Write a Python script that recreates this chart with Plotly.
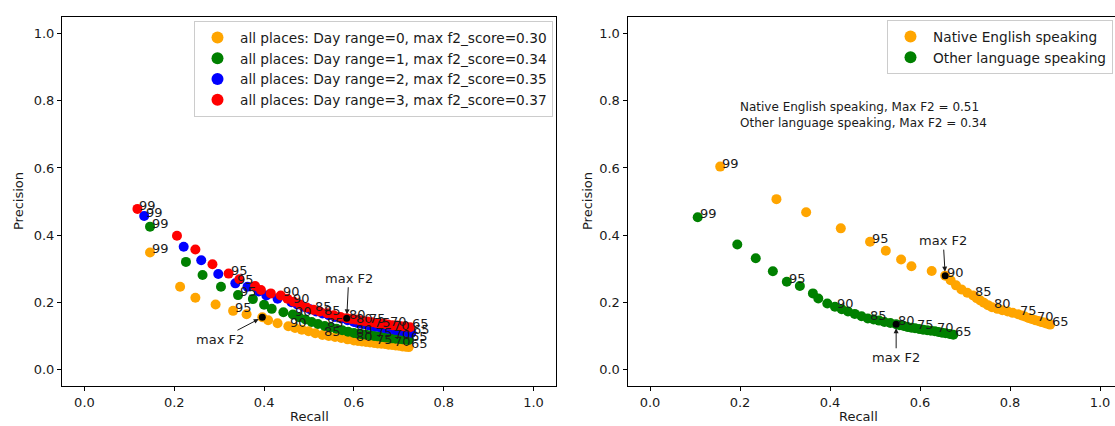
import plotly.graph_objects as go

# ---------------- data ----------------
thresholds = [99, 98, 97, 96, 95, 94, 93, 92, 91, 90, 89, 88, 87, 86, 85, 84, 83, 82, 81, 80,
              79, 78, 77, 76, 75, 74, 73, 72, 71, 70, 69, 68, 67, 66, 65]
label_thresholds = [99, 95, 90, 85, 80, 75, 70, 65]

# Left panel: all places, day ranges 0..3
day0_recall = [0.146, 0.213, 0.247, 0.292, 0.331, 0.361, 0.396, 0.409, 0.430, 0.454, 0.469, 0.484,
               0.499, 0.514, 0.530, 0.544, 0.558, 0.572, 0.586, 0.600, 0.609, 0.618, 0.627, 0.636,
               0.645, 0.653, 0.661, 0.669, 0.677, 0.685, 0.693, 0.700, 0.708, 0.715, 0.722]
day0_precision = [0.348, 0.246, 0.213, 0.193, 0.174, 0.164, 0.155, 0.146, 0.137, 0.128, 0.123, 0.118,
                  0.113, 0.107, 0.102, 0.099, 0.096, 0.093, 0.089, 0.086, 0.084, 0.083, 0.081, 0.080,
                  0.078, 0.077, 0.076, 0.075, 0.073, 0.072, 0.071, 0.070, 0.068, 0.067, 0.066]

day1_recall = [0.146, 0.226, 0.263, 0.304, 0.342, 0.375, 0.400, 0.417, 0.443, 0.464, 0.478, 0.492,
               0.506, 0.520, 0.535, 0.548, 0.561, 0.574, 0.587, 0.600, 0.609, 0.618, 0.627, 0.636,
               0.645, 0.653, 0.661, 0.669, 0.677, 0.685, 0.693, 0.701, 0.709, 0.716, 0.722]
day1_precision = [0.425, 0.320, 0.281, 0.246, 0.221, 0.209, 0.192, 0.180, 0.170, 0.163, 0.155, 0.148,
                  0.141, 0.135, 0.129, 0.125, 0.121, 0.116, 0.112, 0.108, 0.106, 0.104, 0.103, 0.101,
                  0.099, 0.098, 0.096, 0.095, 0.094, 0.092, 0.091, 0.090, 0.089, 0.088, 0.087]

day2_recall = [0.133, 0.221, 0.260, 0.298, 0.336, 0.363, 0.388, 0.405, 0.430, 0.461, 0.474, 0.488,
               0.502, 0.516, 0.530, 0.544, 0.558, 0.572, 0.586, 0.600, 0.608, 0.616, 0.624, 0.632,
               0.640, 0.649, 0.658, 0.667, 0.675, 0.683, 0.692, 0.701, 0.710, 0.719, 0.728]
day2_precision = [0.457, 0.365, 0.325, 0.284, 0.256, 0.246, 0.232, 0.220, 0.210, 0.200, 0.193, 0.186,
                  0.179, 0.172, 0.166, 0.161, 0.156, 0.151, 0.146, 0.141, 0.138, 0.136, 0.134, 0.131,
                  0.129, 0.127, 0.125, 0.123, 0.121, 0.119, 0.117, 0.115, 0.113, 0.111, 0.109]

day3_recall = [0.118, 0.206, 0.247, 0.285, 0.321, 0.345, 0.380, 0.393, 0.415, 0.437, 0.452, 0.466,
               0.480, 0.495, 0.510, 0.524, 0.540, 0.555, 0.570, 0.584, 0.594, 0.603, 0.612, 0.620,
               0.630, 0.640, 0.650, 0.660, 0.668, 0.676, 0.686, 0.696, 0.705, 0.715, 0.725]
day3_precision = [0.478, 0.398, 0.357, 0.313, 0.285, 0.268, 0.248, 0.236, 0.226, 0.220, 0.210, 0.201,
                  0.193, 0.184, 0.177, 0.172, 0.167, 0.161, 0.156, 0.152, 0.150, 0.148, 0.146, 0.144,
                  0.142, 0.140, 0.138, 0.136, 0.135, 0.133, 0.131, 0.130, 0.128, 0.127, 0.125]

left_names = ["all places: Day range=0, max f2_score=0.30",
              "all places: Day range=1, max f2_score=0.34",
              "all places: Day range=2, max f2_score=0.35",
              "all places: Day range=3, max f2_score=0.37"]
left_colors = ["orange", "green", "blue", "red"]
left_max_threshold = {0: 93, 3: 80}   # series index -> threshold of the marked max F2

# Right panel: language groups
native_recall = [0.156, 0.281, 0.347, 0.424, 0.489, 0.524, 0.558, 0.581, 0.626, 0.656, 0.668, 0.680,
                 0.692, 0.705, 0.718, 0.726, 0.734, 0.742, 0.751, 0.760, 0.772, 0.783, 0.795, 0.806,
                 0.818, 0.826, 0.833, 0.841, 0.848, 0.856, 0.863, 0.869, 0.876, 0.882, 0.889]
native_precision = [0.604, 0.507, 0.468, 0.420, 0.380, 0.353, 0.327, 0.307, 0.293, 0.279, 0.265, 0.250,
                    0.238, 0.228, 0.220, 0.212, 0.205, 0.198, 0.191, 0.185, 0.180, 0.176, 0.172, 0.168,
                    0.164, 0.160, 0.157, 0.153, 0.150, 0.146, 0.144, 0.141, 0.139, 0.136, 0.133]

other_recall = [0.106, 0.194, 0.235, 0.273, 0.304, 0.333, 0.362, 0.374, 0.394, 0.411, 0.426, 0.440,
                0.455, 0.470, 0.484, 0.497, 0.509, 0.521, 0.534, 0.547, 0.555, 0.564, 0.572, 0.581,
                0.589, 0.598, 0.607, 0.616, 0.624, 0.633, 0.641, 0.649, 0.657, 0.666, 0.674]
other_precision = [0.453, 0.372, 0.331, 0.292, 0.261, 0.248, 0.226, 0.211, 0.196, 0.186, 0.179, 0.172,
                   0.165, 0.158, 0.151, 0.148, 0.145, 0.141, 0.138, 0.134, 0.131, 0.129, 0.126, 0.124,
                   0.122, 0.120, 0.118, 0.116, 0.115, 0.113, 0.111, 0.109, 0.107, 0.105, 0.103]

right_names = ["Native English speaking", "Other language speaking"]
right_colors = ["orange", "green"]
right_max_threshold = {0: 90, 1: 80}
right_note = "Native English speaking, Max F2 = 0.51<br>Other language speaking, Max F2 = 0.34"

# ---------------- figure ----------------
W, H = 1115, 426
FONT = "DejaVu Sans"
TXT = "#1a1a1a"
fig = go.Figure()

left_series = [(day0_recall, day0_precision), (day1_recall, day1_precision),
               (day2_recall, day2_precision), (day3_recall, day3_precision)]
right_series = [(native_recall, native_precision), (other_recall, other_precision)]

annots = []


def add_panel(series, names, colors, xa, ya, legend):
    for (xs, ys), name, col in zip(series, names, colors):
        fig.add_trace(go.Scatter(x=xs, y=ys, mode="markers", name=name,
                                 marker=dict(color=col, size=10, line=dict(width=0)),
                                 xaxis=xa, yaxis=ya, legend=legend))
    for (xs, ys) in series:
        for t, x, y in zip(thresholds, xs, ys):
            if t in label_thresholds:
                annots.append(dict(x=x, y=y, xref=xa, yref=ya, text=str(t), showarrow=False,
                                   xanchor="left", yanchor="bottom", xshift=1, yshift=-5,
                                   borderpad=0,
                                   font=dict(family=FONT, size=13, color=TXT)))


add_panel(left_series, left_names, left_colors, "x", "y", "legend")
add_panel(right_series, right_names, right_colors, "x2", "y2", "legend2")


def mark_max(series, idx, thr, xa, ya, ax, ay):
    xs, ys = series[idx]
    i = thresholds.index(thr)
    fig.add_trace(go.Scatter(x=[xs[i]], y=[ys[i]], mode="markers",
                             marker=dict(color="black", size=7), showlegend=False,
                             hoverinfo="skip", xaxis=xa, yaxis=ya))
    annots.append(dict(x=xs[i], y=ys[i], xref=xa, yref=ya, text="max F2", showarrow=True,
                       ax=ax, ay=ay, arrowhead=2, arrowsize=1, arrowwidth=1,
                       arrowcolor=TXT, standoff=4,
                       font=dict(family=FONT, size=13, color=TXT)))


mark_max(left_series, 0, left_max_threshold[0], "x", "y", -42, 22)
mark_max(left_series, 3, left_max_threshold[3], "x", "y", 2, -40)
mark_max(right_series, 0, right_max_threshold[0], "x2", "y2", -2, -35)
mark_max(right_series, 1, right_max_threshold[1], "x2", "y2", 0, 33)

annots.append(dict(x=0.2, y=0.757, xref="x2", yref="y2", text=right_note, showarrow=False,
                   xanchor="left", yanchor="middle", align="left", xshift=-2,
                   font=dict(family=FONT, size=12, color=TXT)))

# axis titles
for txt, x, y, ang, ya in [("Precision", 18 / W, (H - 201) / H, -90, "middle"),
                           ("Precision", 587 / W, (H - 201) / H, -90, "middle"),
                           ("Recall", 309 / W, 0.0, 0, "bottom"),
                           ("Recall", 858 / W, 0.0, 0, "bottom")]:
    annots.append(dict(x=x, y=y, xref="paper", yref="paper", text=txt, showarrow=False,
                       textangle=ang, xanchor="center", yanchor=ya,
                       font=dict(family=FONT, size=13, color=TXT)))

ydom = [(H - 386) / H, (H - 17) / H]
axis_common = dict(showgrid=False, zeroline=False, showline=True, linecolor="black", linewidth=1,
                   ticks="outside", ticklen=4, tickcolor="black", tickwidth=1,
                   tickfont=dict(family=FONT, size=13, color=TXT), automargin=False,
                   tickvals=[0.0, 0.2, 0.4, 0.6, 0.8, 1.0], tickformat=".1f")

legend_font = dict(family=FONT, size=13.7, color=TXT)
fig.update_layout(
    width=W, height=H, margin=dict(l=0, r=0, t=0, b=0),
    paper_bgcolor="white", plot_bgcolor="white",
    font=dict(family=FONT, size=13, color=TXT),
    xaxis=dict(domain=[62 / W, 556 / W], range=[-0.05, 1.05], mirror=True, anchor="y", **axis_common),
    yaxis=dict(domain=ydom, range=[-0.05, 1.05], mirror=True, anchor="x", **axis_common),
    xaxis2=dict(domain=[627.5 / W, 1.0], range=[-0.05, (1115 - 650) / 450], mirror=True, anchor="y2",
                **axis_common),
    yaxis2=dict(domain=ydom, range=[-0.05, 1.05], mirror=False, anchor="x2", **axis_common),
    legend=dict(x=553 / W, y=(H - 21) / H, xanchor="right", yanchor="top",
                bgcolor="white", bordercolor="#cccccc", borderwidth=1, itemwidth=35,
                font=legend_font, itemsizing="constant"),
    legend2=dict(x=1113 / W, y=(H - 20) / H, xanchor="right", yanchor="top",
                 bgcolor="white", bordercolor="#cccccc", borderwidth=1, itemwidth=35,
                 font=legend_font, itemsizing="constant"),
    annotations=annots,
    showlegend=True,
)

fig.write_html("out.html")
